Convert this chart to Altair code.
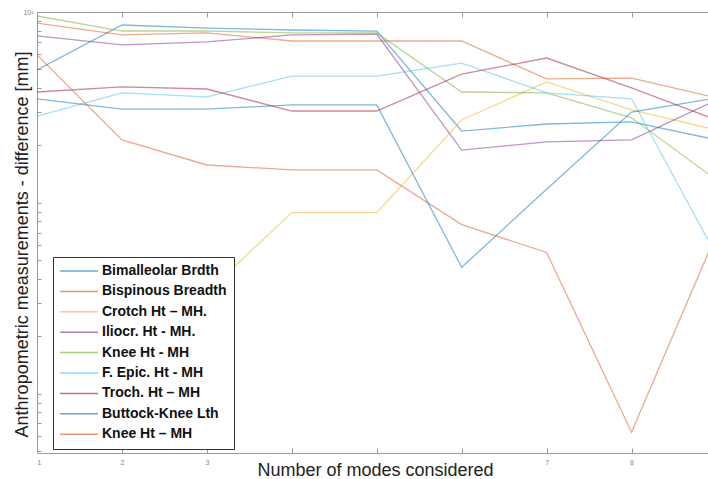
import altair as alt
import pandas as pd

modes = [1, 2, 3, 4, 5, 6, 7, 8, 9]

series_names = [
    "Bimalleolar Brdth",
    "Bispinous Breadth",
    "Crotch Ht \u2013 MH.",
    "Iliocr. Ht - MH.",
    "Knee Ht - MH",
    "F. Epic. Ht - MH",
    "Troch. Ht \u2013 MH",
    "Buttock-Knee Lth",
    "Knee Ht \u2013 MH",
]

bimalleolar = [4.97, 8.55, 8.24, 8.05, 7.95, 2.38, 2.59, 2.66, 2.14]
bispinous = [8.75, 7.59, 7.77, 7.05, 7.05, 7.05, 4.46, 4.51, 3.55]
crotch = [None, 0.24, 0.34, 0.89, 0.89, 2.72, 4.30, 3.07, 2.41]
iliocr = [7.49, 6.72, 6.97, 7.59, 7.67, 1.89, 2.09, 2.14, 3.46]
knee_ht = [9.53, 7.95, 7.95, 7.77, 7.77, 3.81, 3.77, 2.79, 1.32]
f_epic = [2.85, 3.77, 3.59, 4.62, 4.62, 5.40, 3.77, 3.51, 0.53]
troch = [3.81, 4.05, 3.95, 3.03, 3.03, 4.73, 5.74, 4.00, 2.72]
buttock = [3.51, 3.10, 3.10, 3.26, 3.26, 0.46, 1.18, 2.99, 3.55]
knee_ht2 = [5.96, 2.14, 1.58, 1.49, 1.49, 0.77, 0.55, 0.063, 0.69]

series_values = [bimalleolar, bispinous, crotch, iliocr, knee_ht,
                 f_epic, troch, buttock, knee_ht2]

colors = ["#0072BD", "#D95319", "#EDB120", "#7E2F8E", "#77AC30",
          "#4DBEEE", "#A2142F", "#0072BD", "#D95319"]

x_tick_values = [1, 2, 3, 4, 5, 6, 7, 8]
y_minor_ticks = [0.05, 0.06, 0.07, 0.08, 0.09,
                 0.1, 0.2, 0.3, 0.4, 0.5, 0.6, 0.7, 0.8, 0.9,
                 1, 2, 3, 4, 5, 6, 7, 8, 9, 10]

rows = []
for name, vals in zip(series_names, series_values):
    for m, v in zip(modes, vals):
        if v is not None:
            rows.append({"mode": m, "value": v, "series": name})
df = pd.DataFrame(rows)

FONT = "Liberation Sans"
AX = "#9a9a9a"

x_scale = alt.Scale(domain=[1, 8.9], nice=False, zero=False)
y_scale = alt.Scale(type="log", domain=[0.049, 10], nice=False)
color_scale = alt.Scale(domain=series_names, range=colors)

lines = alt.Chart(df).mark_line(strokeWidth=1.3, opacity=0.5, clip=True).encode(
    x=alt.X("mode:Q", scale=x_scale,
            axis=alt.Axis(orient="bottom", values=x_tick_values, ticks=False,
                          domain=True, domainColor=AX, grid=False,
                          labelExpr="indexof([4,5,6], datum.value) >= 0 ? '' : datum.label",
                          labelFontSize=7, labelColor="#888", labelPadding=5, labelFont=FONT,
                          title="Number of modes considered", titleFont=FONT,
                          titleFontSize=18, titleFontWeight="normal", titleColor="#222",
                          titleX=338, titleY=22, titleAlign="center",
                          titleBaseline="alphabetic")),
    y=alt.Y("value:Q", scale=y_scale,
            axis=alt.Axis(orient="left", values=[10], ticks=False, domain=True,
                          domainColor=AX, grid=False,
                          labelExpr="datum.value == 10 ? '10\u00b9' : ''",
                          labelFontSize=7, labelColor="#888", labelPadding=4, labelFont=FONT,
                          title="Anthropometric measurements - difference [mm]",
                          titleFont=FONT, titleFontSize=18, titleFontWeight="normal",
                          titleColor="#222", titleX=-15, titleY=232, titleAngle=-90,
                          titleAlign="center", titleBaseline="middle")),
    color=alt.Color("series:N", scale=color_scale,
                    legend=alt.Legend(orient="none", legendX=16, legendY=245,
                                      title=None, fillColor="white",
                                      strokeColor="#333", padding=7,
                                      symbolType="M-3.5,0H15.5", symbolSize=16,
                                      symbolStrokeWidth=1.5, symbolOpacity=0.6,
                                      labelOffset=28, labelFont=FONT,
                                      labelFontSize=14, labelFontWeight="bold",
                                      labelColor="#111", labelLimit=300,
                                      rowPadding=6.4)),
    detail="series:N",
)

bottom_left_ticks = alt.Chart(df).mark_line(opacity=0).encode(
    x=alt.X("mode:Q", scale=x_scale,
            axis=alt.Axis(orient="bottom", offset=-5, values=x_tick_values[1:],
                          domain=False, labels=False, ticks=True, tickSize=5,
                          tickColor=AX, grid=False, title=None)),
    y=alt.Y("value:Q", scale=y_scale,
            axis=alt.Axis(orient="left", offset=-4, values=y_minor_ticks,
                          domain=False, labels=False, ticks=True, tickSize=4,
                          tickColor=AX, grid=False, title=None)),
    detail="series:N",
)

top_domain = alt.Chart(df).mark_line(opacity=0).encode(
    x=alt.X("mode:Q", scale=x_scale,
            axis=alt.Axis(orient="top", domain=True, domainColor=AX, labels=False,
                          ticks=False, grid=False, title=None)),
    y=alt.Y("value:Q", scale=y_scale, axis=None),
    detail="series:N",
)

top_ticks = alt.Chart(df).mark_line(opacity=0).encode(
    x=alt.X("mode:Q", scale=x_scale,
            axis=alt.Axis(orient="top", offset=-5, values=x_tick_values[1:],
                          domain=False, labels=False, ticks=True, tickSize=5,
                          tickColor=AX, grid=False, title=None)),
    y=alt.Y("value:Q", scale=y_scale, axis=None),
    detail="series:N",
)

chart = alt.layer(lines, bottom_left_ticks, top_domain, top_ticks).resolve_axis(
    x="independent", y="independent"
).properties(
    width=671, height=441,
    padding={"left": 37, "top": 12, "right": 0, "bottom": 26},
    autosize=alt.AutoSizeParams(type="none"),
    background="white",
).configure_view(stroke=None).configure_axis(grid=False)

chart.save("out.html", embed_options={"renderer": "svg", "actions": False})
